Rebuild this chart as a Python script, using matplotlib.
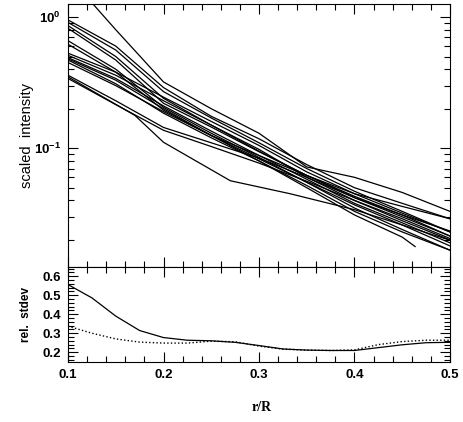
import numpy as np
import matplotlib
matplotlib.use('Agg')
import matplotlib.pyplot as plt
from matplotlib.ticker import MultipleLocator, LogLocator, NullFormatter

# radial profiles (scaled intensity vs r/R)
r_grid = [0.10, 0.15, 0.20, 0.25, 0.30, 0.35, 0.40, 0.45, 0.50]
profiles = [
    [2.06, 0.80, 0.32, 0.20, 0.130, 0.072, 0.060, 0.046, 0.033],
    [0.95, 0.60, 0.29, 0.175, 0.118, 0.075, 0.050, 0.038, 0.029],
    [0.91, 0.56, 0.27, 0.17, 0.110, 0.070, 0.047, 0.033, 0.023],
    [0.86, 0.50, 0.24, 0.15, 0.098, 0.060, 0.040, 0.028, 0.020],
    [0.82, 0.47, 0.22, 0.145, 0.094, 0.062, 0.043, 0.031, 0.0214],
    [0.66, 0.40, 0.205, 0.13, 0.085, 0.055, 0.035, 0.024, 0.0167],
    [0.62, 0.38, 0.195, 0.125, 0.083, 0.055, 0.037, 0.026, 0.018],
    [0.53, 0.38, 0.245, 0.16, 0.105, 0.066, 0.045, 0.032, 0.023],
    [0.51, 0.36, 0.23, 0.15, 0.095, 0.062, 0.042, 0.030, 0.0214],
    [0.49, 0.34, 0.21, 0.135, 0.088, 0.058, 0.038, 0.027, 0.019],
    [0.47, 0.31, 0.185, 0.12, 0.080, 0.052, 0.033, 0.023, 0.0167],
    [0.45, 0.30, 0.19, 0.125, 0.088, 0.062, 0.045, 0.036, 0.029],
    [0.36, 0.23, 0.144, 0.11, 0.084, 0.060, 0.042, 0.031, 0.0234],
    [0.34, 0.215, 0.137, 0.103, 0.077, 0.056, 0.040, 0.029, 0.0205],
]
r_short = [0.10, 0.15, 0.20, 0.25, 0.30, 0.35, 0.40, 0.45, 0.4635]
short_profile = [0.48, 0.33, 0.20, 0.125, 0.080, 0.050, 0.031, 0.021, 0.0178]
r_low = [0.10, 0.17, 0.20, 0.27, 0.3325, 0.40, 0.45, 0.50]
low_profile = [0.35, 0.178, 0.111, 0.0565, 0.045, 0.034, 0.026, 0.0199]

# relative standard deviation
r_sd = [0.1, 0.125, 0.15, 0.175, 0.2, 0.225, 0.25, 0.275, 0.3, 0.325, 0.35,
        0.375, 0.4, 0.425, 0.45, 0.475, 0.5]
sd_solid = [0.556, 0.486, 0.39, 0.314, 0.277, 0.263, 0.26, 0.252, 0.235, 0.217,
            0.211, 0.209, 0.209, 0.224, 0.239, 0.25, 0.252]
sd_dotted = [0.337, 0.30, 0.27, 0.253, 0.248, 0.248, 0.258, 0.255, 0.232, 0.216,
             0.211, 0.209, 0.212, 0.24, 0.256, 0.263, 0.263]

plt.rcParams['font.family'] = ['Liberation Sans', 'DejaVu Sans']
plt.rcParams['axes.linewidth'] = 0.8

fig = plt.figure(figsize=(4.63, 4.22), dpi=100)
ax1 = fig.add_axes([0.1469, 0.368, 0.825, 0.6218])
ax2 = fig.add_axes([0.1469, 0.1429, 0.825, 0.2251])

lw = 0.9
for p in profiles:
    ax1.plot(r_grid, p, color='black', lw=lw)
ax1.plot(r_short, short_profile, color='black', lw=lw)
ax1.plot(r_low, low_profile, color='black', lw=lw)
ax1.set_yscale('log')
ax1.set_xlim(0.1, 0.5)
ax1.set_ylim(0.0125, 1.25)
ax1.yaxis.set_major_locator(LogLocator(base=10))
ax1.yaxis.set_minor_locator(LogLocator(base=10, subs=np.arange(2, 10)))
ax1.yaxis.set_minor_formatter(NullFormatter())
ax1.xaxis.set_major_locator(MultipleLocator(0.1))
ax1.xaxis.set_minor_locator(MultipleLocator(0.02))
ax1.set_xticklabels([])
ax1.set_ylabel('scaled  intensity', fontsize=10.5)
ax1.yaxis.set_label_coords(-0.088, 0.5)

ax2.plot(r_sd, sd_solid, color='black', lw=lw)
ax2.plot(r_sd, sd_dotted, color='black', lw=1.0, linestyle=(0, (1, 1.6)))
ax2.set_xlim(0.1, 0.5)
ax2.set_ylim(0.15, 0.65)
ax2.xaxis.set_major_locator(MultipleLocator(0.1))
ax2.xaxis.set_minor_locator(MultipleLocator(0.02))
ax2.yaxis.set_major_locator(MultipleLocator(0.1))
ax2.yaxis.set_minor_locator(MultipleLocator(0.02))
ax2.set_ylabel('rel.  stdev', fontsize=8.5, fontweight='bold')
ax2.yaxis.set_label_coords(-0.093, 0.5)

for ax in (ax1, ax2):
    ax.tick_params(which='both', direction='in', top=True, right=True,
                   width=0.8, labelsize=9.5)
    ax.tick_params(which='major', length=7, pad=5)
    ax.tick_params(which='minor', length=4)
    for lab in ax.get_xticklabels() + ax.get_yticklabels():
        lab.set_fontweight('bold')

ax2.set_xticks([0.1, 0.2, 0.3, 0.4, 0.5])
ax2.set_xticklabels(['0.1', '0.2', '0.3', '0.4', '0.5'], fontweight='bold')
ax2.set_yticks([0.2, 0.3, 0.4, 0.5, 0.6])
ax2.set_yticklabels(['0.2', '0.3', '0.4', '0.5', '0.6'], fontweight='bold')

fig.text(0.565, 0.035, 'r/R', fontsize=10, family='Liberation Serif',
         fontweight='bold', ha='center', va='center')

fig.savefig('out.png', dpi=100)
